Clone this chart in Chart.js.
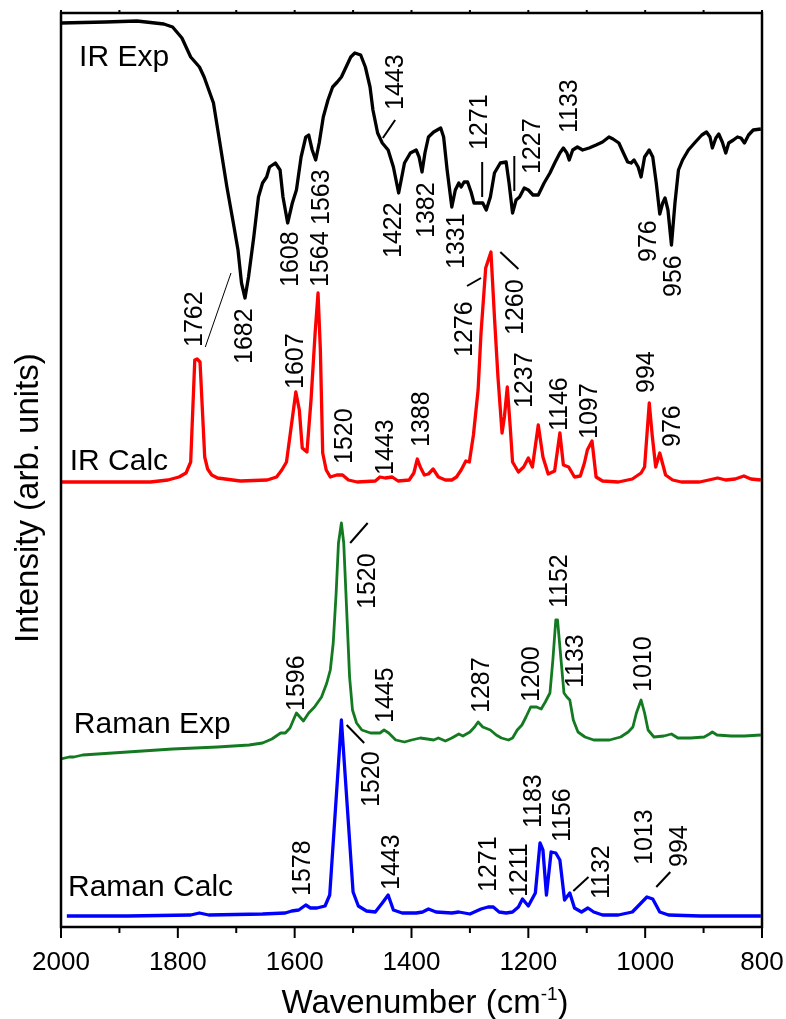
<!DOCTYPE html>
<html>
<head>
<meta charset="utf-8">
<script src="https://cdn.jsdelivr.net/npm/chart.js"></script>
<style>
  html, body { margin: 0; padding: 0; background: #fff; }
  #wrap { width: 786px; height: 1019px; }
</style>
</head>
<body>
<div id="wrap"><canvas id="spectra" width="786" height="1019"></canvas></div>
<script>
// Spectra: [wavenumber (cm-1), intensity (arb. units, stacked offsets)]
const irExp = [
  [2000,904],[1924,905],[1870,906],[1824,903],[1809,900],[1793,889],[1778,870],[1763,860],[1755,850],[1739,824],
  [1728,784],[1716,740],[1705,704],[1697,677],[1691,644],[1685,629],[1679,650],[1670,690],[1662,730],[1655,744],
  [1648,750],[1643,760],[1633,764],[1625,757],[1620,730],[1612,704],[1604,724],[1597,737],[1589,770],[1581,790],
  [1576,792],[1570,777],[1564,767],[1558,784],[1551,810],[1543,827],[1535,840],[1527,845],[1520,850],[1512,860],
  [1504,870],[1497,874],[1487,872],[1479,860],[1471,840],[1466,817],[1458,794],[1450,784],[1440,777],[1431,760],
  [1422,734],[1412,764],[1402,774],[1392,777],[1387,770],[1382,755],[1377,774],[1371,790],[1362,795],[1350,799],
  [1345,790],[1339,757],[1331,720],[1325,737],[1319,744],[1315,740],[1310,745],[1304,745],[1298,735],[1293,724],
  [1286,724],[1278,724],[1272,717],[1265,730],[1258,754],[1248,764],[1238,765],[1233,744],[1227,714],[1221,727],
  [1215,730],[1207,739],[1200,737],[1192,732],[1183,732],[1173,744],[1163,754],[1154,765],[1146,774],[1140,779],
  [1134,774],[1130,767],[1124,777],[1116,780],[1107,777],[1096,779],[1084,782],[1073,785],[1062,790],[1055,788],
  [1045,784],[1038,775],[1030,765],[1024,764],[1019,767],[1012,760],[1007,750],[1001,770],[993,777],[987,770],
  [981,744],[975,713],[970,724],[966,729],[961,717],[955,682],[949,724],[943,757],[936,767],[926,777],
  [914,785],[903,792],[895,795],[889,790],[885,779],[879,789],[874,793],[868,785],[862,774],[857,784],
  [849,787],[842,790],[836,789],[830,784],[823,792],[815,797],[802,798]
];

const irCalc = [
  [2000,445],[1924,445],[1847,445],[1817,447],[1798,450],[1786,454],[1778,465],[1771,567],[1767,568],[1762,565],
  [1754,470],[1749,458],[1742,452],[1732,449],[1693,446],[1647,447],[1631,450],[1622,457],[1614,465],[1606,500],
  [1598,535],[1592,517],[1587,479],[1579,475],[1572,527],[1565,594],[1560,634],[1556,577],[1552,474],[1546,457],
  [1539,450],[1528,452],[1518,452],[1508,447],[1493,445],[1462,446],[1454,450],[1445,449],[1433,450],[1423,446],
  [1404,447],[1396,454],[1390,468],[1385,460],[1378,452],[1371,453],[1363,458],[1354,450],[1342,447],[1331,447],
  [1323,450],[1315,457],[1307,466],[1301,465],[1294,492],[1286,537],[1281,594],[1273,659],[1264,675],[1258,610],
  [1252,550],[1245,494],[1241,510],[1236,540],[1231,500],[1227,465],[1217,455],[1208,460],[1200,469],[1193,460],
  [1183,502],[1175,470],[1166,453],[1155,456],[1146,494],[1140,462],[1131,460],[1121,450],[1111,451],[1104,464],
  [1099,477],[1091,486],[1084,450],[1073,446],[1046,445],[1022,448],[1007,454],[1001,460],[993,524],[988,492],
  [982,460],[975,474],[965,452],[953,447],[938,445],[907,445],[891,447],[876,449],[862,447],[846,448],
  [831,451],[819,448],[802,447]
];

const ramanExp = [
  [2000,168],[1986,170],[1978,170],[1963,172],[1886,175],[1809,178],[1732,180],[1678,182],[1655,184],[1639,188],
  [1624,194],[1616,194],[1608,199],[1600,210],[1597,214],[1585,206],[1576,214],[1566,220],[1554,230],[1545,244],
  [1539,257],[1534,284],[1529,334],[1525,384],[1520,404],[1516,384],[1511,317],[1506,250],[1501,217],[1494,204],
  [1485,197],[1470,194],[1454,194],[1447,197],[1439,194],[1427,187],[1412,185],[1400,187],[1385,189],[1373,188],
  [1362,187],[1354,189],[1342,186],[1331,189],[1319,193],[1312,191],[1300,195],[1292,200],[1286,205],[1278,200],
  [1265,197],[1255,192],[1246,189],[1234,187],[1227,189],[1219,197],[1211,202],[1204,210],[1196,220],[1186,220],
  [1178,218],[1171,225],[1163,234],[1158,267],[1153,307],[1150,307],[1144,267],[1139,234],[1134,230],[1129,227],
  [1123,207],[1115,195],[1103,190],[1088,187],[1061,187],[1042,190],[1029,195],[1021,200],[1015,214],[1007,227],
  [1001,214],[995,197],[985,190],[968,191],[955,193],[944,189],[922,189],[899,190],[890,193],[885,195],
  [877,192],[853,191],[830,191],[802,192]
];

const ramanCalc = [
  [1990,11],[1886,11],[1778,12],[1763,14],[1747,12],[1655,13],[1616,14],[1605,16],[1593,17],[1581,22],
  [1573,19],[1562,19],[1548,21],[1540,32],[1520,207],[1500,35],[1491,21],[1477,16],[1462,15],[1450,24],
  [1440,32],[1431,17],[1416,14],[1392,14],[1381,15],[1371,18],[1358,15],[1331,14],[1319,15],[1300,13],
  [1281,18],[1269,20],[1260,20],[1250,15],[1238,14],[1227,15],[1217,20],[1210,28],[1200,21],[1188,34],
  [1180,84],[1175,77],[1169,32],[1161,75],[1153,74],[1146,67],[1138,27],[1129,34],[1121,19],[1109,15],
  [1098,19],[1088,15],[1073,12],[1046,12],[1022,15],[1007,24],[997,30],[987,28],[975,15],[960,12],
  [906,11],[802,11]
];

const xTicks = [2000, 1800, 1600, 1400, 1200, 1000, 800];

// series names: [text, wavenumber at left edge, intensity at baseline]
const seriesNames = [
  ['IR Exp', 1969, 861],
  ['IR Calc', 1985, 457],
  ['Raman Exp', 1978, 194],
  ['Raman Calc', 1988, 31]
];

// peak labels (rotated): [text, wavenumber, intensity where the text starts]
const peakLabels = [
  ['1608', 1606, 640], ['1564', 1554, 640], ['1563', 1553, 702], ['1443', 1426, 817], ['1422', 1430, 669],
  ['1382', 1373, 689], ['1331', 1322, 658], ['1271', 1282, 777], ['1227', 1191, 753], ['1133', 1128, 794],
  ['976', 993, 665], ['956', 950, 630],
  ['1762', 1771, 580], ['1682', 1684, 563], ['1607', 1598, 538], ['1520', 1514, 463], ['1443', 1444, 452],
  ['1388', 1382, 480], ['1276', 1309, 570], ['1260', 1221, 592], ['1237', 1205, 519], ['1146', 1145, 496],
  ['1097', 1095, 488], ['994', 996, 534], ['976', 952, 480],
  ['1596', 1595, 216], ['1520', 1474, 318], ['1445', 1443, 204], ['1287', 1279, 214], ['1200', 1194, 225],
  ['1152', 1146, 319], ['1133', 1118, 239], ['1010', 1002, 235],
  ['1578', 1585, 31], ['1520', 1467, 120], ['1443', 1434, 37], ['1271', 1268, 35], ['1211', 1214, 30],
  ['1183', 1190, 99], ['1156', 1140, 85], ['1132', 1074, 28], ['1013', 1000, 62], ['994', 940, 60]
];

// leader lines [wn1, y1, wn2, y2]
const leaderLines = [
  [1449, 789, 1428, 807], [1279, 765, 1279, 730], [1224, 771, 1224, 736],
  [1305, 641, 1281, 649], [1248, 675, 1217, 658],
  [1505, 384, 1475, 404], [1511, 202, 1481, 184],
  [1123, 36, 1097, 50], [981, 40, 957, 55]
];
const thinLeader = [1753, 580, 1709, 654];

const FONT = '"Liberation Sans", Arial, sans-serif';
const toPts = arr => arr.map(p => ({ x: p[0], y: p[1] }));

function line(ctx, x1, y1, x2, y2) {
    ctx.beginPath();
    ctx.moveTo(x1, y1);
    ctx.lineTo(x2, y2);
    ctx.stroke();
}

// frame, ticks, labels and axis titles
const decor = {
    id: 'decor',
    afterDraw(chart) {
        const ctx = chart.ctx;
        const xs = chart.scales.x, ys = chart.scales.y;
        const a = chart.chartArea;
        ctx.save();
        ctx.strokeStyle = '#000';
        ctx.fillStyle = '#000';
        ctx.lineCap = 'butt';

        // frame
        ctx.lineWidth = 2.5;
        ctx.strokeRect(a.left, a.top, a.right - a.left, a.bottom - a.top);

        // ticks
        ctx.lineWidth = 2;
        for (let v = 800; v <= 2000; v += 100) {
            const px = xs.getPixelForValue(v);
            const major = v % 200 === 0;
            line(ctx, px, a.bottom, px, a.bottom + (major ? 11 : 6));
            line(ctx, px, a.top, px, a.top - 3);
        }

        // leader lines
        ctx.lineWidth = 2;
        leaderLines.forEach(l => {
            line(ctx, xs.getPixelForValue(l[0]), ys.getPixelForValue(l[1]),
                xs.getPixelForValue(l[2]), ys.getPixelForValue(l[3]));
        });
        ctx.lineWidth = 1;
        line(ctx, xs.getPixelForValue(thinLeader[0]), ys.getPixelForValue(thinLeader[1]),
            xs.getPixelForValue(thinLeader[2]), ys.getPixelForValue(thinLeader[3]));

        // rotated peak labels
        ctx.font = '25px ' + FONT;
        ctx.textAlign = 'left';
        ctx.textBaseline = 'middle';
        peakLabels.forEach(p => {
            ctx.save();
            ctx.translate(xs.getPixelForValue(p[1]), ys.getPixelForValue(p[2]));
            ctx.rotate(-Math.PI / 2);
            ctx.fillText(p[0], 0, 0);
            ctx.restore();
        });

        // series names
        ctx.font = '30px ' + FONT;
        ctx.textBaseline = 'alphabetic';
        seriesNames.forEach(s => {
            ctx.fillText(s[0], xs.getPixelForValue(s[1]), ys.getPixelForValue(s[2]));
        });

        // y title
        ctx.font = '33px ' + FONT;
        ctx.save();
        ctx.translate(38, 643);
        ctx.rotate(-Math.PI / 2);
        ctx.fillText('Intensity (arb. units)', 0, 0);
        ctx.restore();

        // x title with superscript
        const main = 'Wavenumber (cm', sup = '-1', end = ')';
        ctx.font = '33px ' + FONT;
        const w1 = ctx.measureText(main).width, w3 = ctx.measureText(end).width;
        ctx.font = '19px ' + FONT;
        const w2 = ctx.measureText(sup).width;
        let x0 = 425 - (w1 + w2 + w3) / 2;
        ctx.font = '33px ' + FONT;
        ctx.fillText(main, x0, 1013);
        ctx.font = '19px ' + FONT;
        ctx.fillText(sup, x0 + w1, 1000);
        ctx.font = '33px ' + FONT;
        ctx.fillText(end, x0 + w1 + w2, 1013);

        ctx.restore();
    }
};

const series = [
    { label: 'IR Exp', data: irExp, color: '#000000', width: 3.3 },
    { label: 'IR Calc', data: irCalc, color: '#ff0000', width: 3.3 },
    { label: 'Raman Exp', data: ramanExp, color: '#137a22', width: 2.8 },
    { label: 'Raman Calc', data: ramanCalc, color: '#0000ff', width: 3.3 }
];

new Chart(document.getElementById('spectra'), {
    type: 'line',
    data: {
        datasets: series.map(s => ({
            label: s.label,
            data: toPts(s.data),
            borderColor: s.color,
            borderWidth: s.width,
            pointRadius: 0,
            tension: 0,
            fill: false,
            borderJoinStyle: 'round'
        }))
    },
    options: {
        responsive: false,
        animation: false,
        devicePixelRatio: 1,
        layout: { padding: { left: 61, right: 24, top: 13, bottom: 0 } },
        plugins: { legend: { display: false }, tooltip: { enabled: false } },
        scales: {
            x: {
                type: 'linear',
                min: 800,
                max: 2000,
                reverse: true,
                afterBuildTicks: s => { s.ticks = xTicks.map(v => ({ value: v })); },
                afterFit: s => { s.height = 92; s.paddingLeft = 0; s.paddingRight = 0; },
                grid: { display: false, drawTicks: false },
                border: { display: false },
                ticks: {
                    color: '#000', padding: 20, maxRotation: 0,
                    font: { family: FONT, size: 26 },
                    callback: v => String(v)
                }
            },
            y: {
                type: 'linear',
                min: 0,
                max: 914,
                display: false
            }
        }
    },
    plugins: [decor]
});
</script>
</body>
</html>
